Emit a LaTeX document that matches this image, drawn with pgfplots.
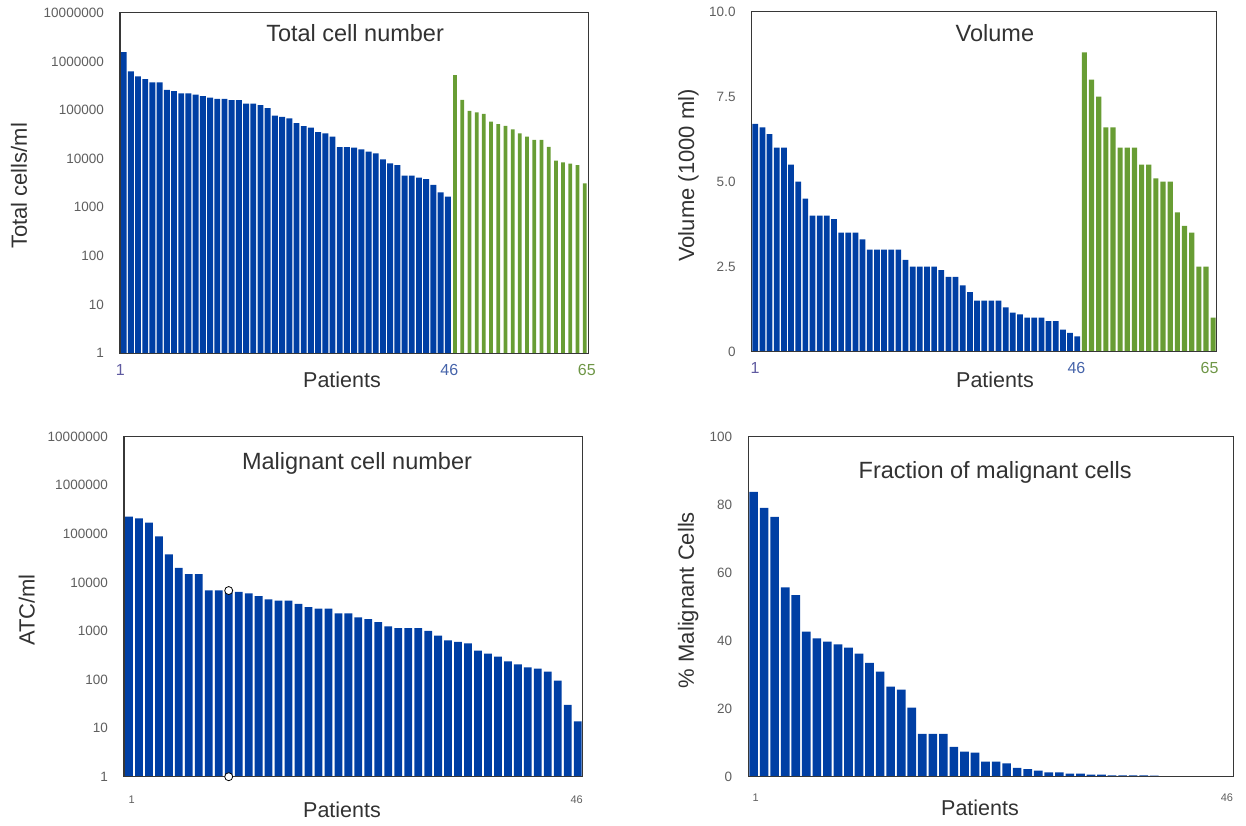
\documentclass[border=0pt]{standalone}
\usepackage{fontspec}
\setmainfont{Liberation Sans}
\usepackage{pgfplots}
\pgfplotsset{compat=1.18}
\pgfkeys{/pgf/number format/assume math mode=true}
\definecolor{barblue}{RGB}{0,63,164}
\definecolor{bargreen}{RGB}{104,157,52}
\definecolor{axisgray}{RGB}{55,55,55}
\definecolor{tickgray}{RGB}{95,95,95}
\definecolor{textgray}{RGB}{50,50,50}
\definecolor{lab1}{RGB}{95,90,160}
\definecolor{lab46}{RGB}{70,100,170}
\definecolor{lab65}{RGB}{110,150,70}
\newcommand{\titlefont}{\fontsize{23.5}{26}\selectfont}
\newcommand{\labfont}{\fontsize{22}{24}\selectfont}
\newcommand{\tickfont}{\fontsize{13.5}{15}\selectfont}
\pgfplotsset{
  panel/.style={
    scale only axis, anchor=south west,
    axis line style={draw=axisgray, line width=1.2pt},
    major tick length=0pt, minor tick length=0pt,
    tick style={draw=none},
    ybar, bar shift=0pt,
    axis on top,
    yticklabel style={anchor=east, inner sep=0pt, xshift=-16pt, font=\tickfont, text=tickgray},
    xticklabel style={anchor=center, inner sep=0pt},
    ytick pos=left, xtick pos=bottom,
  },
}
\begin{document}
\begin{tikzpicture}
\useasboundingbox (0pt,0pt) rectangle (1246pt,825pt);
% ---------------- Top left: Total cell number
\begin{axis}[ymode=log, log basis y=10, ymin=1, ymax=10000000,
  ytick={1,10,100,1000,10000,100000,1000000,10000000},
  yticklabels={1,10,100,1000,10000,100000,1000000,10000000},
  panel, at={(120pt,471.7pt)}, width=468.3pt, height=340.6pt,
  xmin=0.5, xmax=65.5,
  xtick={0.55,46.2,65.3},
  xticklabels={\textcolor{lab1}{1},\textcolor{lab46}{46},\textcolor{lab65}{65}},
  xticklabel style={yshift=-17pt, font=\fontsize{16}{18}\selectfont}]
\addplot[fill=barblue, draw=none, bar width=0.82] coordinates {
(1,1550000) (2,620000) (3,490000) (4,430000) (5,370000) (6,370000) (7,260000) (8,244000) (9,220000) (10,220000)
(11,208000) (12,192000) (13,180000) (14,170000) (15,170000) (16,160000) (17,160000) (18,136000) (19,136000) (20,126000)
(21,109000) (22,77000) (23,72000) (24,67000) (25,54000) (26,46600) (27,43600) (28,35000) (29,33000) (30,28500)
(31,17200) (32,17200) (33,16900) (34,15600) (35,14000) (36,12900) (37,9700) (38,8000) (39,7400) (40,4500)
(41,4500) (42,4100) (43,3800) (44,2900) (45,2030) (46,1650)};
\addplot[fill=bargreen, draw=none, bar width=0.52] coordinates {
(47,520000) (48,162000) (49,96000) (50,89000) (51,83000) (52,58000) (53,51000) (54,47000) (55,40000) (56,33000)
(57,28500) (58,24300) (59,24300) (60,17400) (61,9100) (62,8400) (63,7900) (64,7400) (65,3100)};
\node[font=\titlefont, text=textgray] at (rel axis cs:0.502,0.94) {Total cell number};
\end{axis}
% ---------------- Top right: Volume
\begin{axis}[panel, at={(751.7pt,473.3pt)}, width=465pt, height=340pt,
  xmin=0.5, xmax=65.5, ymin=0, ymax=10,
  ytick={0,2.5,5,7.5,10}, yticklabels={0,2.5,5.0,7.5,10.0},
  xtick={0.96,45.9,64.5},
  xticklabels={\textcolor{lab1}{1},\textcolor{lab46}{46},\textcolor{lab65}{65}},
  xticklabel style={yshift=-16pt, font=\fontsize{16}{18}\selectfont}]
\addplot[fill=barblue, draw=none, bar width=0.8] coordinates {
(1,6.7) (2,6.6) (3,6.4) (4,6.0) (5,6.0) (6,5.5) (7,5.0) (8,4.5) (9,4.0) (10,4.0)
(11,4.0) (12,3.9) (13,3.5) (14,3.5) (15,3.5) (16,3.3) (17,3.0) (18,3.0) (19,3.0) (20,3.0)
(21,3.0) (22,2.7) (23,2.5) (24,2.5) (25,2.5) (26,2.5) (27,2.4) (28,2.2) (29,2.2) (30,1.95)
(31,1.75) (32,1.5) (33,1.5) (34,1.5) (35,1.5) (36,1.3) (37,1.15) (38,1.1) (39,1.0) (40,1.0)
(41,1.0) (42,0.9) (43,0.9) (44,0.65) (45,0.55) (46,0.45)};
\addplot[fill=bargreen, draw=none, bar width=0.72] coordinates {
(47,8.8) (48,8.0) (49,7.5) (50,6.6) (51,6.6) (52,6.0) (53,6.0) (54,6.0) (55,5.5) (56,5.5)
(57,5.1) (58,5.0) (59,5.0) (60,4.1) (61,3.7) (62,3.5) (63,2.5) (64,2.5) (65,1.0)};
\node[font=\titlefont, text=textgray] at (rel axis cs:0.523,0.937) {Volume};
\end{axis}
% ---------------- Bottom left: Malignant cell number
\begin{axis}[ymode=log, log basis y=10, ymin=1, ymax=10000000,
  ytick={1,10,100,1000,10000,100000,1000000,10000000},
  yticklabels={1,10,100,1000,10000,100000,1000000,10000000},
  panel, at={(124pt,48.3pt)}, width=458.7pt, height=340pt,
  xmin=0.5, xmax=46.5, clip=false,
  xtick={1.27,45.9}, xticklabels={1,46},
  xticklabel style={yshift=-23pt, font=\fontsize{11}{12}\selectfont, text=tickgray}]
\addplot[fill=barblue, draw=none, bar width=0.78] coordinates {
(1,226000) (2,208000) (3,170000) (4,89000) (5,38000) (6,20000) (7,14900) (8,14900) (9,6900) (10,6900)
(11,6800) (12,6400) (13,5960) (14,5200) (15,4500) (16,4200) (17,4200) (18,3600) (19,3100) (20,2900)
(21,2900) (22,2300) (23,2300) (24,1900) (25,1760) (26,1530) (27,1250) (28,1150) (29,1150) (30,1150)
(31,1000) (32,800) (33,640) (34,600) (35,556) (36,393) (37,341) (38,296) (39,237) (40,206)
(41,178) (42,167) (43,145) (44,95) (45,30) (46,13.8)};
\addplot[only marks, mark=*, mark size=4pt, mark options={fill=white, draw=black, line width=0.8pt}]
  coordinates {(11,6800) (11,1)};
\node[font=\titlefont, text=textgray] at (rel axis cs:0.508,0.92) {Malignant cell number};
\end{axis}
% ---------------- Bottom right: Fraction of malignant cells
\begin{axis}[panel, at={(748.3pt,48.3pt)}, width=485pt, height=340pt,
  xmin=0.5, xmax=46.5, ymin=0, ymax=100,
  ytick={0,20,40,60,80,100},
  xtick={1.2,45.9}, xticklabels={1,46},
  xticklabel style={yshift=-21pt, font=\fontsize{11}{12}\selectfont, text=tickgray}]
\addplot[fill=barblue, draw=none, bar width=0.82] coordinates {
(1,83.8) (2,79.1) (3,76.4) (4,55.7) (5,53.4) (6,42.7) (7,40.7) (8,39.7) (9,38.9) (10,38.0)
(11,36.2) (12,33.5) (13,30.9) (14,26.5) (15,25.6) (16,20.3) (17,12.6) (18,12.6) (19,12.6) (20,8.8)
(21,7.4) (22,7.1) (23,4.4) (24,4.4) (25,3.9) (26,2.6) (27,2.2) (28,1.8) (29,1.3) (30,1.3)
(31,0.9) (32,0.9) (33,0.6) (34,0.6) (35,0.4) (36,0.4) (37,0.4) (38,0.4) (39,0.3) (40,0)
(41,0) (42,0) (43,0) (44,0.15) (45,0.15) (46,0.15)};
\node[font=\titlefont, text=textgray] at (rel axis cs:0.509,0.896) {Fraction of malignant cells};
\end{axis}
% ---------------- axis titles
\node[rotate=90, font=\labfont, text=textgray] at (19pt,639pt) {Total cells/ml};
\node[rotate=90, font=\labfont, text=textgray] at (688.3pt,649.5pt) {Volume (1000 ml)};
\node[rotate=90, font=\labfont, text=textgray] at (26.7pt,215pt) {ATC/ml};
\node[rotate=90, font=\labfont, text=textgray] at (688.3pt,225pt) {\% Malignant Cells};
\node[font=\fontsize{21.5}{24}\selectfont, text=textgray] at (342pt,445pt) {Patients};
\node[font=\fontsize{21.5}{24}\selectfont, text=textgray] at (995pt,445pt) {Patients};
\node[font=\fontsize{21.5}{24}\selectfont, text=textgray] at (342pt,15pt) {Patients};
\node[font=\fontsize{21.5}{24}\selectfont, text=textgray] at (980pt,17pt) {Patients};
\end{tikzpicture}
\end{document}
